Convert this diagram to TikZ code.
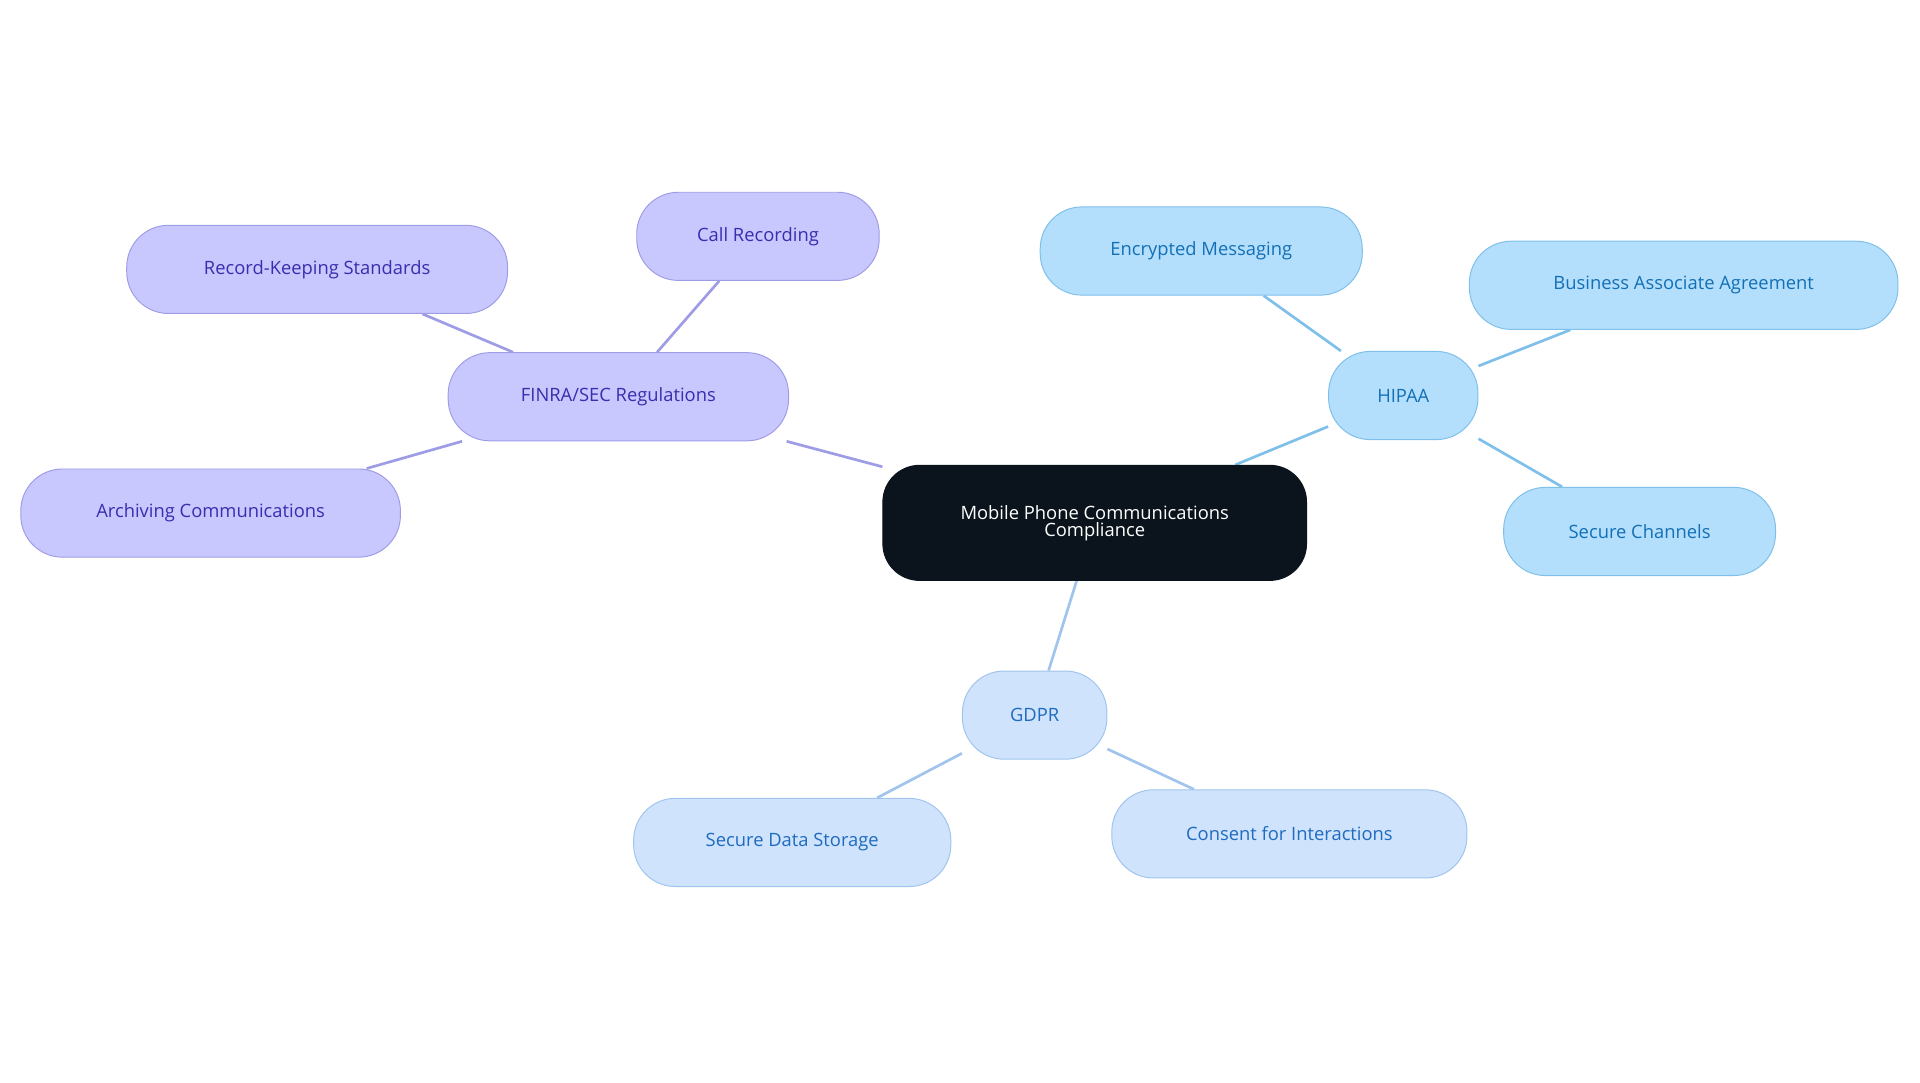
\documentclass[tikz,border=0pt]{standalone}
\usepackage{fontspec}
\setmainfont{Open Sans}
\usetikzlibrary{backgrounds}
\definecolor{cdark}{HTML}{0B141C}
\definecolor{pfill}{HTML}{C9C8FE}
\definecolor{pline}{HTML}{9F9CE6}
\definecolor{ptext}{HTML}{3A2DAE}
\definecolor{hfill}{HTML}{B3DEFC}
\definecolor{hline}{HTML}{7FC0EA}
\definecolor{htext}{HTML}{1370B5}
\definecolor{gfill}{HTML}{CFE3FC}
\definecolor{gline}{HTML}{A0C4EE}
\definecolor{gtext}{HTML}{1F6BC0}
\begin{document}
\begin{tikzpicture}[x=1pt,y=-1pt,
  box/.style={rounded corners=34pt,minimum height=72pt,font=\fontsize{15}{17}\selectfont,inner sep=0pt,line width=0.8pt},
  pbox/.style={box,fill=pfill,draw=pline,text=ptext},
  hbox/.style={box,fill=hfill,draw=hline,text=htext},
  gbox/.style={box,fill=gfill,draw=gline,text=gtext},
  pe/.style={draw=pline,line width=2.2pt},
  he/.style={draw=hline,line width=2.2pt},
  ge/.style={draw=gline,line width=2.2pt}]
\useasboundingbox (0,0) rectangle (1568,884);
\node[box,fill=cdark,draw=cdark,text=white,minimum width=346pt,minimum height=94pt,align=center,rounded corners=30pt] (c) at (894,427) {Mobile Phone Communications\\[-3pt]Compliance};
\node[pbox,minimum width=278pt] (f) at (505,324) {FINRA/SEC Regulations};
\node[pbox,minimum width=198pt] (f1) at (619,193) {Call Recording};
\node[pbox,minimum width=311pt] (f2) at (259,220) {Record-Keeping Standards};
\node[pbox,minimum width=310pt] (f3) at (172,419) {Archiving Communications};
\node[hbox,minimum width=122pt] (h) at (1146,323) {HIPAA};
\node[hbox,minimum width=263pt] (h1) at (981,205) {Encrypted Messaging};
\node[hbox,minimum width=350pt] (h2) at (1375,233) {Business Associate Agreement};
\node[hbox,minimum width=222pt] (h3) at (1339,434) {Secure Channels};
\node[gbox,minimum width=118pt] (g) at (845,584) {GDPR};
\node[gbox,minimum width=259pt] (g1) at (647,688) {Secure Data Storage};
\node[gbox,minimum width=290pt] (g2) at (1053,681) {Consent for Interactions};
\begin{scope}[on background layer]
\path[pe] (c) -- (f); \path[pe] (f) -- (f1); \path[pe] (f) -- (f2); \path[pe] (f) -- (f3);
\path[he] (c) -- (h); \path[he] (h) -- (h1); \path[he] (h) -- (h2); \path[he] (h) -- (h3);
\path[ge] (c) -- (g); \path[ge] (g) -- (g1); \path[ge] (g) -- (g2);
\end{scope}
\end{tikzpicture}
\end{document}
